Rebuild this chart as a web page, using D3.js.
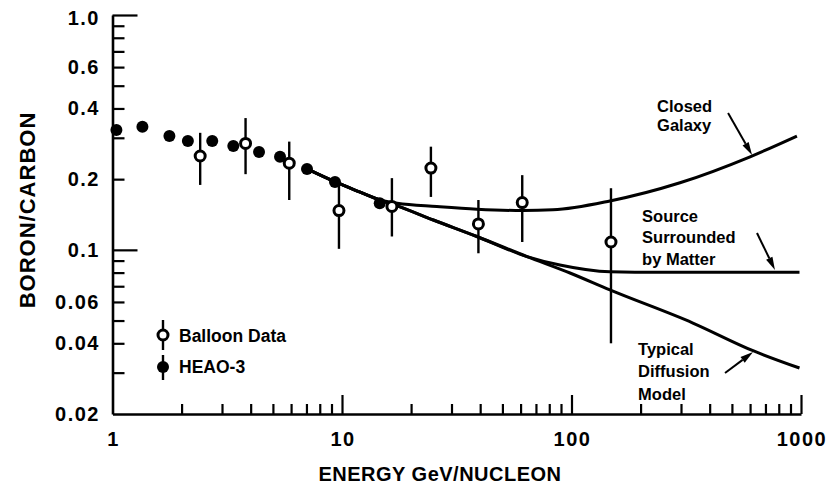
<!DOCTYPE html>
<html><head><meta charset="utf-8">
<script src="https://cdn.jsdelivr.net/npm/d3@7/dist/d3.min.js"></script>
<style>body{margin:0;background:#fff}text{font-family:'Liberation Sans',Arial,sans-serif;fill:#000}</style>
</head><body><svg id="c" width="828" height="495"></svg>
<script>
// ---- data ----
const heaoEnergy = [1.04, 1.35, 1.77, 2.13, 2.72, 3.36, 4.35, 5.37, 7.04, 9.32, 14.6];
const heaoRatio  = [0.324, 0.334, 0.305, 0.291, 0.291, 0.277, 0.261, 0.249, 0.221, 0.1945, 0.158];

const balloonEnergy = [2.41, 3.80, 5.89, 9.70, 16.5, 24.4, 39.3, 61.0, 148.6];
const balloonRatio  = [0.251, 0.284, 0.234, 0.147, 0.153, 0.223, 0.129, 0.159, 0.108];
const balloonLow    = [0.189, 0.210, 0.163, 0.101, 0.114, 0.168, 0.0967, 0.108, 0.040];
const balloonHigh   = [0.315, 0.364, 0.289, 0.195, 0.202, 0.275, 0.163, 0.208, 0.183];

const closedEnergy = [7.04, 9.3, 12, 14.6, 17.4, 25.9, 38.7, 61.5, 83, 147, 297, 600, 960];
const closedRatio  = [0.221, 0.195, 0.176, 0.163, 0.158, 0.153, 0.149, 0.147, 0.148, 0.1615, 0.193, 0.249, 0.305];

const sourceEnergy = [7.04, 9.3, 12, 14.6, 17.4, 25, 38.7, 64, 89, 147, 243, 985];
const sourceRatio  = [0.221, 0.195, 0.176, 0.163, 0.154, 0.134, 0.114, 0.0936, 0.0862, 0.0807, 0.0803, 0.0803];

const diffusionEnergy = [7.04, 9.3, 12, 14.6, 17.4, 25, 38.7, 64, 98.5, 147, 338, 618, 985];
const diffusionRatio  = [0.221, 0.195, 0.176, 0.163, 0.154, 0.134, 0.114, 0.0936, 0.0797, 0.0675, 0.0488, 0.0372, 0.0314];

const xTickLabels = [1, 10, 100, 1000];
const yTickLabels = ["0.02", "0.04", "0.06", "0.1", "0.2", "0.4", "0.6", "1.0"];
const xMinorTicks = [2,3,4,5,6,7,8,9,20,30,40,50,60,70,80,90,200,300,400,500,600,700,800,900];
const xMajorTicks = [10, 100, 1000];
const yMinorTicks = [0.03,0.04,0.05,0.06,0.07,0.08,0.09,0.2,0.3,0.4,0.5,0.6,0.7,0.8,0.9];
const yMajorTicks = [0.1, 1.0];

const curveLabels = [
  {lines:["Closed","Galaxy"], e:236, r:0.386, lh:19, tail:[481,0.3826], tip:[612,0.2535]},
  {lines:["Source","Surrounded","by Matter"], e:203, r:0.1318, lh:21.7, tail:[643,0.118], tip:[770,0.0821]},
  {lines:["Typical","Diffusion","Model"], e:195, r:0.0357, lh:22.5, tail:[466.6,0.0299], tip:[618,0.0367]}
];

// ---- chart ----
const svg = d3.select("#c");
const x = d3.scaleLog().domain([1, 1000]).range([112.5, 801]);
const y = d3.scaleLog().domain([0.02, 1]).range([414, 15]);

// axes
const gx = svg.append("g").attr("transform", `translate(0,${y(0.02)})`);
gx.call(d3.axisBottom(x).tickValues(xMinorTicks).tickSize(-10).tickSizeOuter(0).tickFormat(""));
const gx2 = svg.append("g").attr("transform", `translate(0,${y(0.02)})`);
gx2.call(d3.axisBottom(x).tickValues(xMajorTicks).tickSize(-19).tickSizeOuter(0).tickFormat(""));
gx2.select(".domain").remove();

const gy = svg.append("g").attr("transform", `translate(${x(1)},0)`);
gy.call(d3.axisLeft(y).tickValues(yMinorTicks).tickSize(-12).tickSizeOuter(0).tickFormat(""));
const gy2 = svg.append("g").attr("transform", `translate(${x(1)},0)`);
gy2.call(d3.axisLeft(y).tickValues(yMajorTicks).tickSize(-25).tickSizeOuter(0).tickFormat(""));
gy2.select(".domain").remove();

svg.selectAll(".domain").attr("stroke", "#000").attr("stroke-width", 2.6);
svg.selectAll(".tick line").attr("stroke", "#000").attr("stroke-width", 2.2);

// tick labels
svg.append("g").selectAll("text").data(xTickLabels).join("text")
  .attr("x", d => x(d) + 1).attr("y", 446)
  .attr("text-anchor", "middle").attr("font-size", 20).attr("font-weight", "bold")
  .attr("letter-spacing", 1.5).text(d => d);
svg.append("g").selectAll("text").data(yTickLabels).join("text")
  .attr("x", 100).attr("y", d => y(+d) + 7 + (d === "1.0" ? 3 : 0))
  .attr("text-anchor", "end").attr("font-size", 20).attr("font-weight", "bold")
  .attr("letter-spacing", 1.5).text(d => d);

// axis titles
svg.append("text").attr("x", 440).attr("y", 481).attr("text-anchor", "middle")
  .attr("font-size", 20).attr("font-weight", "bold").attr("letter-spacing", 0.5)
  .text("ENERGY GeV/NUCLEON");
svg.append("text").attr("transform", "translate(35,210) rotate(-90)").attr("text-anchor", "middle")
  .attr("font-size", 22).attr("font-weight", "bold").attr("letter-spacing", 1)
  .text("BORON/CARBON");

// curves
const line = d3.line().x(d => x(d[0])).y(d => y(d[1])).curve(d3.curveMonotoneX);
[[closedEnergy, closedRatio], [sourceEnergy, sourceRatio], [diffusionEnergy, diffusionRatio]].forEach(([E, R]) => {
  svg.append("path").attr("d", line(E.map((e, i) => [e, R[i]])))
    .attr("fill", "none").attr("stroke", "#000").attr("stroke-width", 3);
});

// HEAO-3 dots
svg.append("g").selectAll("circle").data(heaoEnergy).join("circle")
  .attr("cx", d => x(d)).attr("cy", (d, i) => y(heaoRatio[i])).attr("r", 6).attr("fill", "#000");

// balloon error bars + circles
svg.append("g").selectAll("line").data(balloonEnergy).join("line")
  .attr("x1", d => x(d)).attr("x2", d => x(d))
  .attr("y1", (d, i) => y(balloonHigh[i])).attr("y2", (d, i) => y(balloonLow[i]))
  .attr("stroke", "#000").attr("stroke-width", 2.4);
svg.append("g").selectAll("circle").data(balloonEnergy).join("circle")
  .attr("cx", d => x(d)).attr("cy", (d, i) => y(balloonRatio[i])).attr("r", 5)
  .attr("fill", "#fff").attr("stroke", "#000").attr("stroke-width", 3);

// legend
const lg = svg.append("g");
lg.append("line").attr("x1", 163).attr("x2", 163).attr("y1", 320).attr("y2", 350).attr("stroke", "#000").attr("stroke-width", 2.4);
lg.append("circle").attr("cx", 163).attr("cy", 335).attr("r", 5).attr("fill", "#fff").attr("stroke", "#000").attr("stroke-width", 3);
lg.append("line").attr("x1", 163).attr("x2", 163).attr("y1", 355).attr("y2", 380).attr("stroke", "#000").attr("stroke-width", 2.4);
lg.append("circle").attr("cx", 163).attr("cy", 367).attr("r", 6).attr("fill", "#000");
lg.append("text").attr("x", 179).attr("y", 341.5).attr("font-size", 17.5).attr("font-weight", "bold").text("Balloon Data");
lg.append("text").attr("x", 179).attr("y", 373).attr("font-size", 17.5).attr("font-weight", "bold").text("HEAO-3");

// curve annotations
curveLabels.forEach(c => {
  const t = svg.append("text").attr("font-size", 16.5).attr("font-weight", "bold");
  c.lines.forEach((s, i) => t.append("tspan").attr("x", x(c.e)).attr("y", y(c.r) + i * c.lh).text(s));
  const x1 = x(c.tail[0]), y1 = y(c.tail[1]), x2 = x(c.tip[0]), y2 = y(c.tip[1]);
  const ang = Math.atan2(y2 - y1, x2 - x1), L = 13, W = 3.5;
  const bx = x2 - L * Math.cos(ang), by = y2 - L * Math.sin(ang);
  svg.append("line").attr("x1", x1).attr("y1", y1).attr("x2", bx).attr("y2", by)
    .attr("stroke", "#000").attr("stroke-width", 2);
  svg.append("path").attr("d", `M${x2},${y2}L${bx - W * Math.sin(ang)},${by + W * Math.cos(ang)}L${bx + W * Math.sin(ang)},${by - W * Math.cos(ang)}Z`)
    .attr("fill", "#000");
});
</script></body></html>
